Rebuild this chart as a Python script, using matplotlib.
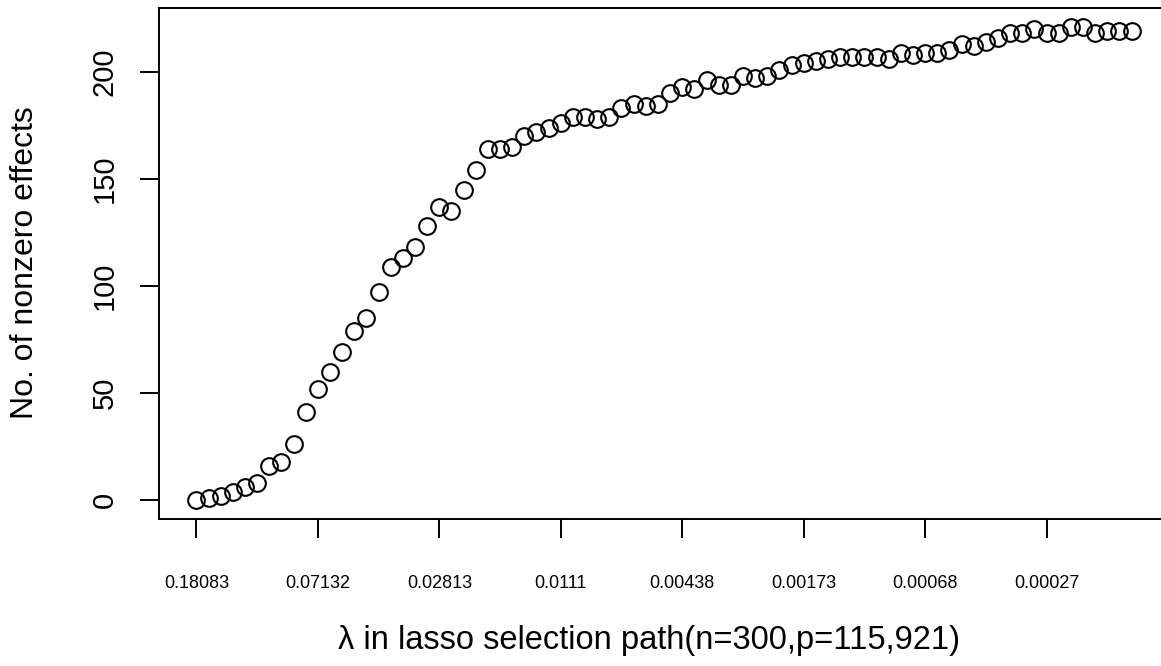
import matplotlib
matplotlib.use("Agg")
import matplotlib.pyplot as plt
import numpy as np

plt.rcParams['font.family'] = ['Liberation Sans', 'DejaVu Sans']

# Number of nonzero effects along the lasso path (one value per lambda step)
nonzero = [0, 1, 2, 4, 6, 8, 16, 18, 26, 41,
           52, 60, 69, 79, 85, 97, 109, 113, 118, 128,
           137, 135, 145, 154, 164, 164, 165, 170, 172, 174,
           176, 179, 179, 178, 179, 183, 185, 184, 185, 190,
           193, 192, 196, 194, 194, 198, 197, 198, 201, 203,
           204, 205, 206, 207, 207, 207, 207, 206, 209, 208,
           209, 209, 210, 213, 212, 214, 216, 218, 218, 220,
           218, 218, 221, 221, 218, 219, 219, 219]
step = np.arange(1, len(nonzero) + 1)

# lambda values shown every 10 steps
tick_steps = [1, 11, 21, 31, 41, 51, 61, 71]
tick_labels = ["0.18083", "0.07132", "0.02813", "0.0111",
               "0.00438", "0.00173", "0.00068", "0.00027"]

fig = plt.figure(figsize=(11.61, 6.66), dpi=100)
ax = fig.add_axes([159 / 1161, 147 / 666, 1010 / 1161, 511 / 666])

ax.plot(step, nonzero, linestyle="none", marker="o", markersize=12,
        markerfacecolor="none", markeredgecolor="black", markeredgewidth=1.5)

ax.set_xlim(-2.08, 81.08)
ax.set_ylim(-8.84, 229.84)

ax.set_xticks(tick_steps)
ax.set_xticklabels(tick_labels, fontsize=13)
ax.set_yticks([0, 50, 100, 150, 200])
ax.set_yticklabels(["0", "50", "100", "150", "200"], fontsize=21,
                   rotation=90, va="center")

ax.tick_params(axis="x", length=13.5, width=1.4, pad=27)
ax.tick_params(axis="y", length=13.5, width=1.4, pad=15.5)
for sp in ax.spines.values():
    sp.set_linewidth(1.4)

fig.text(25 / 1161, 1 - 263 / 666, "No. of nonzero effects", rotation=90,
         fontsize=23, ha="center", va="center")
fig.text(649 / 1161, 1 - 640 / 666, "λ in lasso selection path(n=300,p=115,921)",
         fontsize=23.5, ha="center", va="center")

fig.savefig("out.png", dpi=100)
